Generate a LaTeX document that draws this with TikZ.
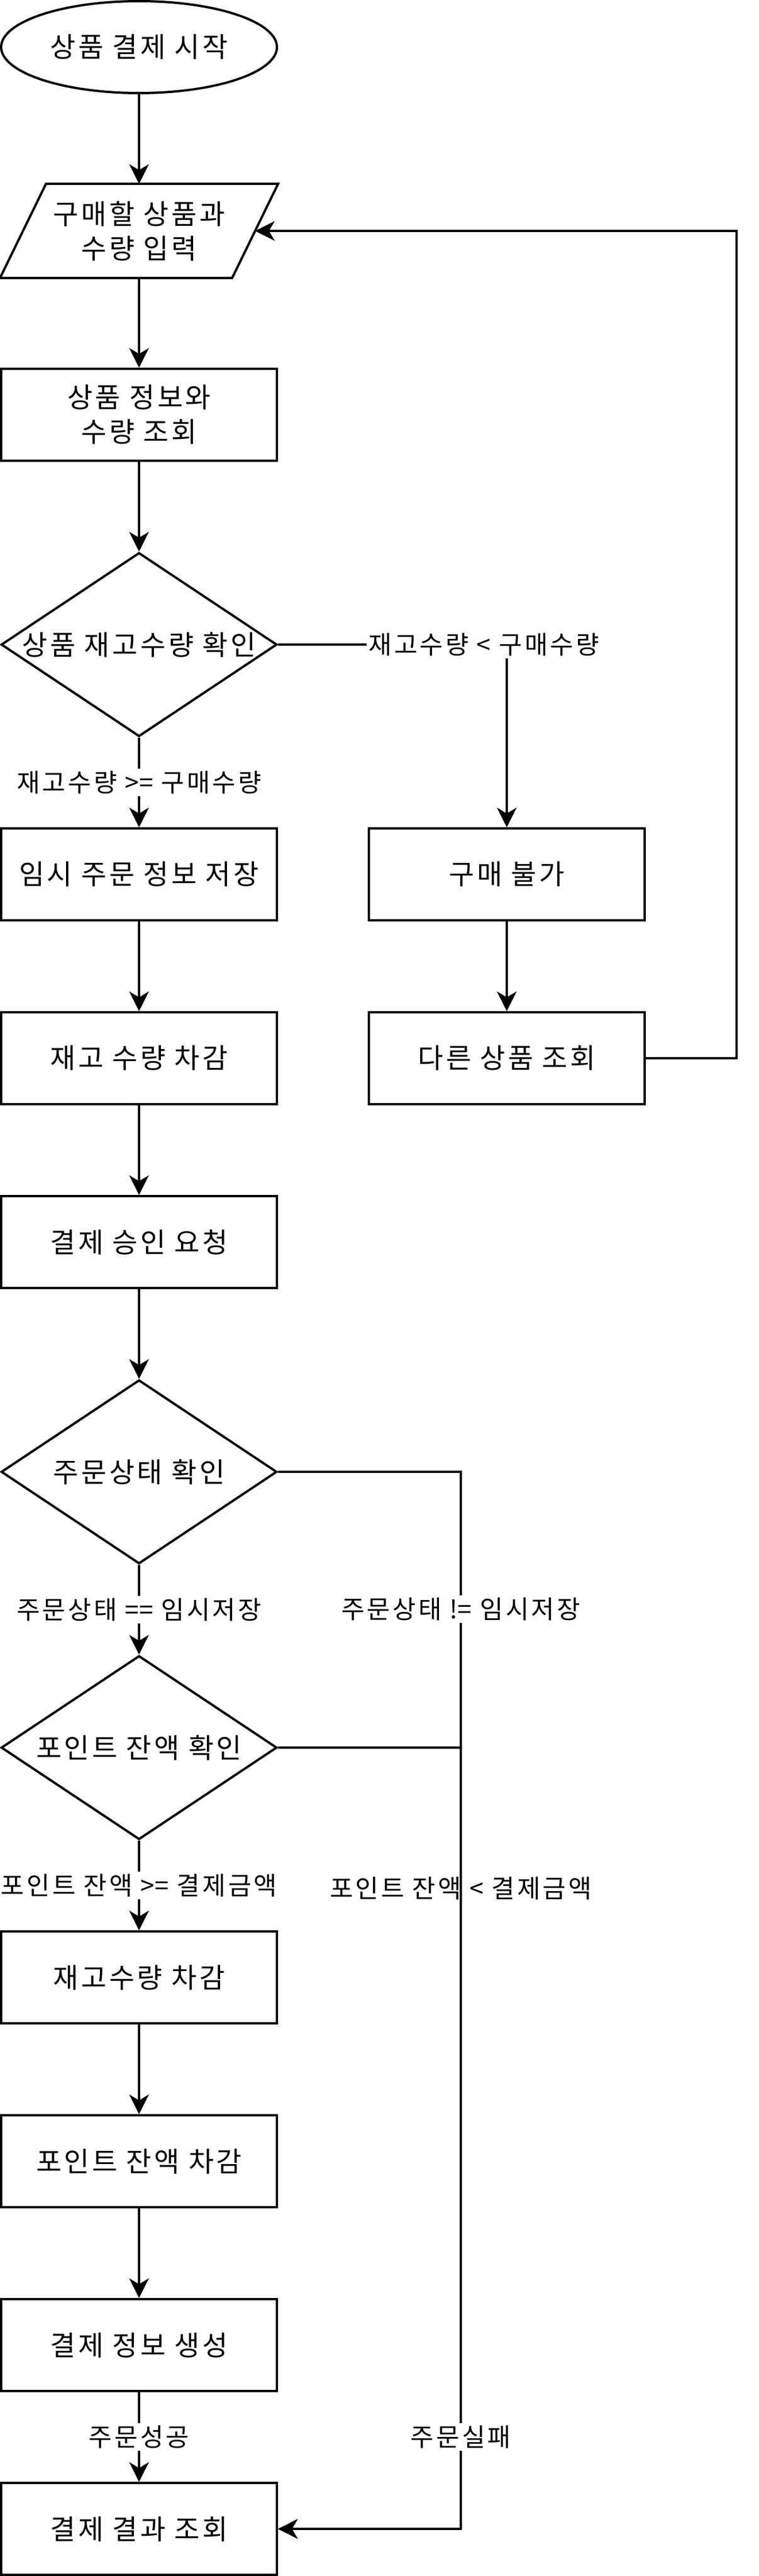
\documentclass[tikz,border=0pt]{standalone}
\usepackage{fontspec}
\setmainfont{Noto Sans CJK KR}[LetterSpace=9.5]
\newfontfamily\signfont{Noto Sans CJK KR}
\newcommand\opsign[1]{{\signfont #1}}
\usetikzlibrary{shapes.geometric, arrows.meta}

\begin{document}
\begin{tikzpicture}[x=1pt, y=-1pt, line width=1pt,
    >={Stealth[length=8.5pt, width=8.5pt, inset=2.5pt]},
    font=\fontsize{12pt}{15pt}\selectfont,
    stepbox/.style={draw, rectangle, minimum width=120pt, minimum height=40pt, inner sep=0pt, align=center},
    startbox/.style={draw, ellipse, minimum width=120pt, minimum height=40pt, inner sep=0pt},
    inbox/.style={rectangle, minimum width=120pt, minimum height=40pt, inner sep=0pt, align=center},
    checkbox/.style={draw, diamond, minimum width=120pt, minimum height=80pt, inner sep=0pt},
    cond/.style={fill=white, inner sep=1pt, font=\fontsize{11pt}{13pt}\selectfont}]
  \useasboundingbox (-0.5, -0.5) rectangle (329.5, 1120.5);

  \node [startbox] (start) at (60, 20) {상품 결제 시작};
  \node [inbox] (input) at (60, 100) {구매할 상품과\\수량 입력};
  \draw ([xshift=20pt]input.north west) -- (input.north east) -- ([xshift=-20pt]input.south east) -- (input.south west) -- cycle;
  \node [stepbox] (lookup) at (60, 180) {상품 정보와\\수량 조회};
  \node [checkbox, label=center:상품 재고수량 확인] (stock) at (60, 280) {};
  \node [stepbox] (hold) at (60, 380) {임시 주문 정보 저장};
  \node [stepbox] (deduct) at (60, 460) {재고 수량 차감};
  \node [stepbox] (approve) at (60, 540) {결제 승인 요청};
  \node [checkbox, label=center:주문상태 확인] (status) at (60, 640) {};
  \node [checkbox, label=center:포인트 잔액 확인] (balance) at (60, 760) {};
  \node [stepbox] (stockdown) at (60, 860) {재고수량 차감};
  \node [stepbox] (pointdown) at (60, 940) {포인트 잔액 차감};
  \node [stepbox] (payinfo) at (60, 1020) {결제 정보 생성};
  \node [stepbox] (result) at (60, 1100) {결제 결과 조회};

  \node [stepbox] (nobuy) at (220, 380) {구매 불가};
  \node [stepbox] (other) at (220, 460) {다른 상품 조회};

  \coordinate (loopdown) at (320, 460);
  \coordinate (loopup) at (320, 100);
  \coordinate (failtop) at (200, 640);
  \coordinate (failjoin) at (200, 760);
  \coordinate (failbot) at (200, 1100);

  \draw [->] (start) -- (input);
  \draw [->] (input) -- (lookup);
  \draw [->] (lookup) -- (stock);
  \draw [->] (stock) -- node [cond] {재고수량 \opsign{>=} 구매수량} (hold);
  \draw [->] (stock.east) -| node [pos=0.45, cond] {재고수량 \opsign{<} 구매수량} (nobuy.north);
  \draw [->] (hold) -- (deduct);
  \draw [->] (deduct) -- (approve);
  \draw [->] (approve) -- (status);
  \draw [->] (nobuy) -- (other);
  \draw [->] (other.east) -- (loopdown) -- (loopup) -- ([xshift=-10pt]input.east);

  \draw [->] (status) -- node [cond] {주문상태 \opsign{==} 임시저장} (balance);
  \draw [->] (balance) -- node [cond] {포인트 잔액 \opsign{>=} 결제금액} (stockdown);
  \draw [->] (stockdown) -- (pointdown);
  \draw [->] (pointdown) -- (payinfo);
  \draw [->] (payinfo) -- node [cond] {주문성공} (result);

  \draw [->] (balance.east) -- (failjoin) -- node [pos=0.18, cond] {포인트 잔액 \opsign{<} 결제금액} (failbot) -- (result.east);
  \draw [->] (status.east) -- (failtop) -- node [pos=0.13, cond] {주문상태 \opsign{!=} 임시저장} node [pos=0.913, cond] {주문실패} (failbot) -- (result.east);
\end{tikzpicture}
\end{document}
